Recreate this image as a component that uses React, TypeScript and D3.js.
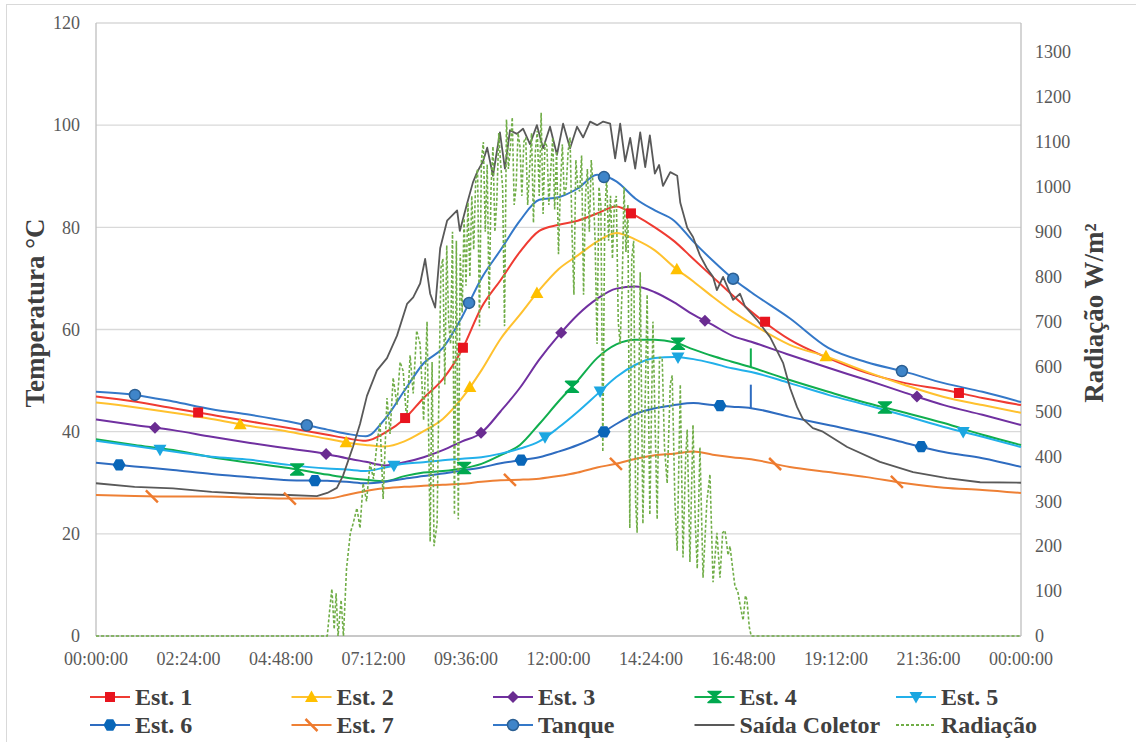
import React from 'react';
import * as d3 from 'd3';

// time grid (hours of the day) shared by the station / tank temperature series
const hours = [0, 1, 2, 3, 4, 5, 6, 6.5, 7, 7.5, 8, 8.5, 9, 9.5, 10, 10.5, 11, 11.5, 12, 12.5, 13, 13.5, 14, 14.5, 15, 15.5, 16, 16.5, 17, 18, 19, 20, 21, 22, 23, 24];

const est1 = [46.9, 45.9, 44.6, 43.3, 42.0, 40.7, 39.4, 38.7, 38.2, 39.8, 42.5, 46.6, 50.3, 56.1, 64.3, 69.7, 75.2, 79.3, 80.5, 81.3, 82.7, 84.1, 82.3, 80.0, 77.3, 73.8, 70.3, 66.8, 63.5, 58.0, 54.4, 51.5, 49.5, 48.2, 46.6, 45.2];
const est2 = [45.7, 44.8, 43.7, 42.5, 41.1, 40.0, 38.6, 37.9, 37.4, 37.1, 38.1, 40.1, 42.5, 46.6, 52.0, 58.2, 62.9, 67.7, 71.8, 74.5, 77.2, 78.9, 77.6, 75.5, 72.2, 69.4, 66.4, 63.6, 61.2, 57.0, 54.6, 51.7, 49.1, 46.8, 45.2, 43.7];
const est3 = [42.4, 41.3, 40.3, 39.0, 37.8, 36.7, 35.6, 34.8, 34.1, 33.4, 34.0, 35.0, 36.4, 38.1, 39.8, 44.0, 48.6, 54.1, 58.8, 62.9, 66.0, 68.0, 68.4, 67.3, 65.3, 62.9, 60.9, 58.8, 57.6, 55.0, 52.5, 50.1, 47.6, 45.2, 43.3, 41.3];
const est4 = [38.5, 37.4, 36.4, 35.0, 33.9, 32.9, 31.6, 31.0, 30.6, 30.3, 31.3, 32.0, 32.3, 32.8, 33.7, 35.4, 37.4, 41.5, 45.9, 50.0, 54.4, 57.1, 58.0, 58.0, 57.5, 56.1, 54.8, 53.7, 52.6, 50.1, 47.8, 45.6, 43.7, 41.7, 39.4, 37.4];
const est5 = [38.2, 37.2, 36.1, 35.1, 34.5, 33.5, 32.8, 32.6, 32.3, 33.0, 33.7, 34.0, 34.4, 34.7, 35.0, 35.7, 36.7, 38.1, 40.8, 43.9, 47.3, 50.7, 53.1, 54.4, 54.6, 54.2, 53.4, 52.4, 51.7, 49.5, 47.2, 45.2, 43.1, 40.9, 39.0, 37.0];
const est6 = [33.9, 33.2, 32.5, 31.7, 31.1, 30.5, 30.4, 30.2, 29.9, 30.2, 30.8, 31.3, 31.8, 32.4, 33.0, 33.8, 34.4, 35.0, 36.1, 37.4, 39.1, 41.5, 43.5, 44.6, 45.2, 45.6, 45.2, 44.9, 44.6, 42.9, 41.3, 39.7, 37.8, 36.0, 34.8, 33.1];
const est7 = [27.6, 27.4, 27.3, 27.3, 27.1, 26.9, 26.9, 27.6, 28.4, 28.9, 29.2, 29.4, 29.6, 29.8, 30.2, 30.5, 30.6, 30.8, 31.3, 32.0, 33.0, 33.7, 34.7, 35.4, 35.7, 36.1, 35.5, 35.0, 34.6, 33.1, 32.1, 31.1, 29.9, 29.0, 28.6, 28.0];
const tanque = [47.8, 47.2, 45.9, 44.4, 43.3, 42.0, 40.4, 39.6, 39.1, 42.5, 48.0, 53.4, 56.4, 62.5, 70.0, 75.6, 81.3, 85.4, 85.9, 87.6, 90.3, 89.0, 85.6, 83.3, 81.3, 77.2, 73.5, 70.1, 67.3, 62.2, 56.4, 53.6, 51.7, 49.5, 47.8, 45.8];

// short spikes seen at about 17:00 on Est. 4 and Est. 6
const spikeHour = 16.99;
const est4SpikeTop = 56.3;
const est6SpikeTop = 49.2;

// hours at which the series markers sit
const est1Marks = [2.65, 8.02, 9.52, 13.88, 17.36, 22.39];
const est2Marks = [3.74, 6.49, 9.7, 11.44, 15.07, 18.94];
const est3Marks = [1.53, 5.97, 9.99, 12.07, 15.8, 21.3];
const est4Marks = [5.22, 9.55, 12.35, 15.1, 20.47];
const est5Marks = [1.66, 7.73, 11.65, 13.08, 15.1, 22.5];
const est6Marks = [0.6, 5.68, 11.03, 13.18, 16.19, 21.41];
const est7Marks = [1.45, 5.03, 10.74, 13.49, 17.62, 20.78];
const tanqueMarks = [1.01, 5.47, 9.68, 13.18, 16.53, 20.91];

// Saída Coletor: [hour, °C]
const saidaColetor: [number, number][] = [
  [0, 29.9], [1, 29.2], [2, 28.9], [3, 28.2], [4, 27.8], [5, 27.6], [5.73, 27.4], [6.0, 28.0], [6.25, 29.0],
  [6.41, 31.4], [6.67, 37.1], [6.85, 41.5], [7.03, 47.0], [7.29, 52.0], [7.55, 54.4], [7.81, 58.8], [8.07, 65.0],
  [8.23, 66.3], [8.41, 69.0], [8.54, 73.8], [8.67, 67.0], [8.8, 64.3], [8.93, 75.9], [9.11, 81.3], [9.37, 83.3],
  [9.44, 79.3], [9.63, 84.7], [9.78, 88.8], [9.89, 90.8], [10.04, 92.9], [10.15, 95.6], [10.3, 90.1], [10.48, 98.6],
  [10.61, 91.5], [10.74, 99.0], [10.92, 98.3], [11.08, 99.3], [11.26, 96.3], [11.44, 100.0], [11.6, 95.5],
  [11.78, 99.7], [11.96, 94.2], [12.12, 100.3], [12.3, 95.5], [12.48, 99.7], [12.64, 97.6], [12.82, 100.7],
  [13.0, 100.0], [13.16, 100.7], [13.34, 100.3], [13.47, 93.5], [13.6, 100.3], [13.73, 92.9], [13.86, 97.5],
  [13.99, 91.5], [14.12, 98.6], [14.25, 91.8], [14.37, 98.0], [14.5, 90.5], [14.61, 92.2], [14.71, 88.1],
  [14.9, 90.8], [15.08, 90.1], [15.16, 84.8], [15.34, 79.9], [15.49, 78.1], [15.67, 74.5], [15.85, 72.0],
  [16.01, 70.3], [16.11, 67.7], [16.27, 70.3], [16.53, 65.8], [16.71, 67.0], [16.84, 64.5], [17.15, 61.9],
  [17.49, 58.5], [17.83, 53.4], [18.01, 48.5], [18.19, 44.8], [18.34, 42.5], [18.6, 40.7], [18.86, 40.0],
  [19.49, 37.0], [20.34, 34.1], [21.2, 32.1], [22.08, 30.9], [22.94, 30.1], [24, 30.0],
];

// Radiação: [hour, W/m²]
const radiacao: [number, number][] = [
  [0, 0], [6.0, 0], [6.06, 55], [6.12, 105], [6.18, 15], [6.23, 95], [6.28, 0], [6.36, 80], [6.42, 0],
  [6.5, 150], [6.6, 230], [6.67, 250], [6.77, 285], [6.85, 240], [6.93, 340], [7.02, 300], [7.11, 385],
  [7.2, 350], [7.29, 430], [7.37, 475], [7.45, 305], [7.55, 530], [7.63, 450], [7.71, 575], [7.81, 515],
  [7.89, 610], [7.97, 590], [8.06, 480], [8.15, 625], [8.23, 540], [8.32, 680], [8.41, 650], [8.5, 480],
  [8.59, 700], [8.67, 210], [8.72, 610], [8.77, 200], [8.85, 250],
  [8.9, 560], [8.95, 820], [9.0, 840], [9.05, 560], [9.1, 870], [9.15, 700], [9.2, 650], [9.25, 900],
  [9.3, 270], [9.35, 880], [9.4, 260], [9.45, 850], [9.5, 720], [9.55, 930], [9.6, 780], [9.65, 965],
  [9.7, 800], [9.75, 980], [9.8, 860], [9.85, 1010], [9.9, 1040], [9.95, 690], [10.0, 1060], [10.05, 1100],
  [10.1, 900], [10.15, 1050], [10.2, 730], [10.25, 1000], [10.3, 1090], [10.35, 900], [10.4, 970],
  [10.45, 1120], [10.5, 1050], [10.55, 1000], [10.6, 690], [10.65, 1150], [10.7, 1040], [10.75, 1085],
  [10.8, 1155], [10.85, 960], [10.9, 1000], [10.95, 1120], [11.0, 1090], [11.05, 980], [11.1, 1100],
  [11.15, 1110], [11.2, 960], [11.25, 1040], [11.3, 1120], [11.35, 920], [11.4, 1080], [11.45, 1125],
  [11.5, 980], [11.55, 1165], [11.6, 940], [11.65, 1100], [11.7, 1090], [11.75, 960], [11.8, 1040],
  [11.85, 1110], [11.9, 950], [11.95, 1080], [12.0, 850], [12.05, 1000], [12.1, 1095], [12.15, 980],
  [12.2, 1000], [12.25, 1080], [12.3, 1110], [12.35, 900], [12.4, 760], [12.45, 1060], [12.5, 1000],
  [12.55, 990], [12.6, 1070], [12.65, 760], [12.7, 980], [12.75, 1040], [12.8, 900], [12.85, 1060],
  [12.9, 1000], [12.95, 880], [13.0, 650], [13.05, 1000], [13.1, 960], [13.15, 410], [13.2, 940],
  [13.25, 1020], [13.3, 880], [13.35, 980], [13.4, 840], [13.45, 960], [13.5, 980], [13.55, 700],
  [13.6, 650], [13.65, 770], [13.7, 1000], [13.75, 855], [13.8, 960], [13.85, 240], [13.9, 840],
  [13.95, 880], [14.0, 300],
  [14.04, 230], [14.12, 810], [14.19, 250], [14.3, 760], [14.37, 270], [14.45, 700], [14.56, 260],
  [14.62, 620], [14.69, 620], [14.75, 420], [14.82, 340], [14.9, 560], [14.95, 580], [15.02, 300],
  [15.08, 190], [15.16, 560], [15.23, 175], [15.3, 400], [15.34, 460], [15.41, 165], [15.49, 470],
  [15.55, 250], [15.6, 150], [15.67, 420], [15.75, 130], [15.85, 300], [15.93, 360], [16.01, 120],
  [16.11, 230], [16.19, 130], [16.26, 230], [16.32, 235], [16.4, 180], [16.45, 200], [16.52, 150],
  [16.58, 110], [16.65, 100], [16.71, 70], [16.79, 35], [16.85, 90], [16.89, 80], [16.95, 20], [17.0, 0], [24, 0],
];

const xTickHours = [0, 2.4, 4.8, 7.2, 9.6, 12, 14.4, 16.8, 19.2, 21.6, 24];
const xTickLabels = ['00:00:00', '02:24:00', '04:48:00', '07:12:00', '09:36:00', '12:00:00', '14:24:00', '16:48:00', '19:12:00', '21:36:00', '00:00:00'];
const tempTicks = [0, 20, 40, 60, 80, 100, 120];
const radTicks = [0, 100, 200, 300, 400, 500, 600, 700, 800, 900, 1000, 1100, 1200, 1300];

const FONT = "'Liberation Serif', 'Times New Roman', serif";

type Marker = 'square' | 'triangle' | 'diamond' | 'hourglass' | 'invTriangle' | 'hexagon' | 'slash' | 'circle' | 'none';

const series = [
  { name: 'Est. 1', values: est1, line: '#EF3B32', fill: '#E8141E', marker: 'square' as Marker, marks: est1Marks },
  { name: 'Est. 2', values: est2, line: '#FFC12E', fill: '#FFC000', marker: 'triangle' as Marker, marks: est2Marks },
  { name: 'Est. 3', values: est3, line: '#7030A0', fill: '#6A2C91', marker: 'diamond' as Marker, marks: est3Marks },
  { name: 'Est. 4', values: est4, line: '#10AE4E', fill: '#00A94F', marker: 'hourglass' as Marker, marks: est4Marks },
  { name: 'Est. 5', values: est5, line: '#22B0EA', fill: '#1BA6E0', marker: 'invTriangle' as Marker, marks: est5Marks },
  { name: 'Est. 6', values: est6, line: '#2E6CC0', fill: '#0966B8', marker: 'hexagon' as Marker, marks: est6Marks },
  { name: 'Est. 7', values: est7, line: '#EE8035', fill: '#EE7A2E', marker: 'slash' as Marker, marks: est7Marks },
  { name: 'Tanque', values: tanque, line: '#3478C8', fill: '#3F85C9', marker: 'circle' as Marker, marks: tanqueMarks },
];

function markerShape(type: Marker, cx: number, cy: number, fill: string, key: string) {
  const t = `translate(${cx},${cy})`;
  switch (type) {
    case 'square':
      return <rect key={key} x={cx - 5} y={cy - 5} width={10} height={10} fill={fill} />;
    case 'triangle':
      return <path key={key} transform={t} d="M0,-6.5L6.5,5L-6.5,5Z" fill={fill} />;
    case 'invTriangle':
      return <path key={key} transform={t} d="M-6.5,-5L6.5,-5L0,6.5Z" fill={fill} />;
    case 'diamond':
      return <path key={key} transform={t} d="M0,-6L6,0L0,6L-6,0Z" fill={fill} />;
    case 'hourglass':
      return <path key={key} transform={t} d="M-6.5,-5.5L6.5,-5.5L0,0ZM-6.5,5.5L6.5,5.5L0,0Z" fill={fill} stroke={fill} strokeWidth={1.5} strokeLinejoin="round" />;
    case 'hexagon': {
      const pts = d3.range(6).map(k => {
        const a = (Math.PI / 3) * k;
        return `${(6.5 * Math.cos(a)).toFixed(2)},${(6.5 * Math.sin(a)).toFixed(2)}`;
      });
      return <polygon key={key} transform={t} points={pts.join(' ')} fill={fill} />;
    }
    case 'slash':
      return <line key={key} x1={cx - 6} y1={cy - 6} x2={cx + 6} y2={cy + 6} stroke={fill} strokeWidth={2.5} />;
    case 'circle':
      return <circle key={key} cx={cx} cy={cy} r={5.5} fill={fill} stroke="#2B5F93" strokeWidth={1.5} />;
    default:
      return null;
  }
}

export default function App() {
  const W = 1136;
  const H = 742;
  const left = 96, right = 1021, top = 23, bottom = 636;

  const x = d3.scaleLinear().domain([0, 24]).range([left, right]);
  const yT = d3.scaleLinear().domain([0, 120]).range([bottom, top]);
  const yR = d3.scaleLinear().domain([0, 1365]).range([bottom, top]);

  const tempLine = d3.line<number>()
    .x((_, i) => x(hours[i]))
    .y(d => yT(d))
    .curve(d3.curveMonotoneX);
  const saidaLine = d3.line<[number, number]>().x(d => x(d[0])).y(d => yT(d[1]));
  const radLine = d3.line<[number, number]>().x(d => x(d[0])).y(d => yR(d[1]));

  // value of a series at hour h (linear between grid points)
  const at = (vals: number[], h: number) => {
    const i = Math.min(Math.max(d3.bisectRight(hours, h), 1), hours.length - 1);
    const t = (h - hours[i - 1]) / (hours[i] - hours[i - 1]);
    return vals[i - 1] + t * (vals[i] - vals[i - 1]);
  };

  const legendItems = [
    ...series.slice(0, 5).map((s, i) => ({ ...s, row: 0, col: i, dashed: false })),
    ...series.slice(5).map((s, i) => ({ ...s, row: 1, col: i, dashed: false })),
    { name: 'Saída Coletor', line: '#595959', fill: '#595959', marker: 'none' as Marker, row: 1, col: 3, dashed: false },
    { name: 'Radiação', line: '#70AD47', fill: '#70AD47', marker: 'none' as Marker, row: 1, col: 4, dashed: true },
  ];

  return (
    <div style={{ position: 'absolute', left: 0, top: 0 }}>
      <svg width={W} height={H} style={{ display: 'block', background: '#fff' }} fontFamily={FONT}>
        <rect x={6.5} y={4.5} width={W + 10} height={H + 10} fill="#fff" stroke="#D9D9D9" />

        {/* gridlines */}
        {tempTicks.map(v => (
          <line key={'g' + v} x1={left} x2={right} y1={yT(v)} y2={yT(v)} stroke="#D9D9D9" strokeWidth={1.3} />
        ))}
        <line x1={left} x2={left} y1={top} y2={bottom} stroke="#BFBFBF" strokeWidth={1.3} />
        <line x1={right} x2={right} y1={top} y2={bottom} stroke="#BFBFBF" strokeWidth={1.3} />
        <line x1={left} x2={right} y1={bottom} y2={bottom} stroke="#BFBFBF" strokeWidth={1.3} />

        {/* left ticks */}
        {tempTicks.map(v => (
          <text key={'lt' + v} x={80} y={yT(v)} dy="0.35em" textAnchor="end" fontSize={18} fill="#595959">{v}</text>
        ))}
        {/* right ticks */}
        {radTicks.map(v => (
          <text key={'rt' + v} x={1035} y={yR(v)} dy="0.35em" textAnchor="start" fontSize={18} fill="#595959">{v}</text>
        ))}
        {/* x ticks */}
        {xTickHours.map((h, i) => (
          <text key={'xt' + i} x={x(h)} y={665} textAnchor="middle" fontSize={18} fill="#595959">{xTickLabels[i]}</text>
        ))}

        {/* axis titles */}
        <text transform="translate(44,313) rotate(-90)" textAnchor="middle" fontSize={27} fontWeight="bold" fill="#404040">Temperatura °C</text>
        <text transform="translate(1103,313) rotate(-90)" textAnchor="middle" fontSize={27} fontWeight="bold" fill="#404040">Radiação W/m²</text>

        {/* temperature lines */}
        {series.map(s => (
          <path key={'l' + s.name} d={tempLine(s.values) || ''} fill="none" stroke={s.line} strokeWidth={2} />
        ))}
        <line x1={x(spikeHour)} x2={x(spikeHour)} y1={yT(at(est4, spikeHour))} y2={yT(est4SpikeTop)} stroke="#10AE4E" strokeWidth={2} />
        <line x1={x(spikeHour)} x2={x(spikeHour)} y1={yT(at(est6, spikeHour))} y2={yT(est6SpikeTop)} stroke="#2E6CC0" strokeWidth={2} />
        <path d={saidaLine(saidaColetor) || ''} fill="none" stroke="#595959" strokeWidth={1.8} strokeLinejoin="round" />

        {/* radiation */}
        <path d={radLine(radiacao) || ''} fill="none" stroke="#70AD47" strokeWidth={1.6} strokeDasharray="3,2" />

        {/* markers */}
        {series.map(s => s.marks.map((h, i) => markerShape(s.marker, x(h), yT(at(s.values, h)), s.fill, s.name + i)))}

        {/* legend */}
        {legendItems.map(it => {
          const lx = 90 + it.col * 201.5;
          const ly = it.row === 0 ? 697 : 725;
          return (
            <g key={'lg' + it.name}>
              <line x1={lx} x2={lx + 40} y1={ly} y2={ly} stroke={it.line} strokeWidth={2}
                strokeDasharray={it.dashed ? '3,2' : undefined} />
              {markerShape(it.marker, lx + 20, ly, it.fill, 'm' + it.name)}
              <text x={lx + 45} y={ly} dy="0.35em" fontSize={24} fontWeight="bold" fill="#404040">{it.name}</text>
            </g>
          );
        })}
      </svg>
    </div>
  );
}
